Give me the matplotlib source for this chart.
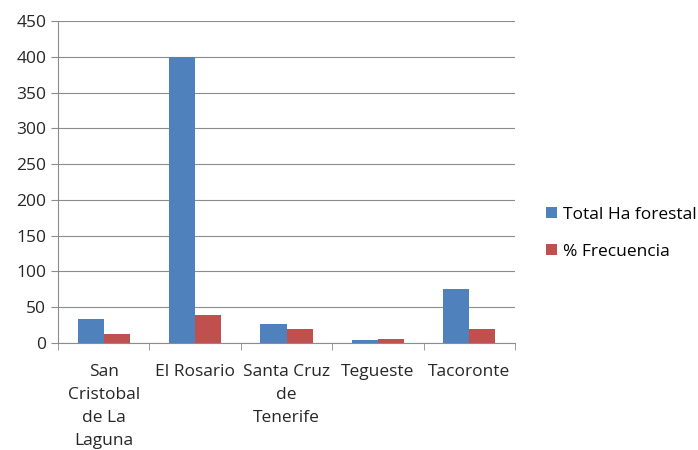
import numpy as np
import matplotlib.pyplot as plt

plt.rcParams['font.family'] = ['Open Sans', 'DejaVu Sans']

municipios = ['San\nCristobal\nde La\nLaguna', 'El Rosario', 'Santa Cruz\nde\nTenerife', 'Tegueste', 'Tacoronte']
total_ha = [34, 400, 27, 4, 76]
frecuencia = [13, 39, 19, 6, 20]

fig = plt.figure(figsize=(6.98, 4.5), dpi=100)
ax = fig.add_axes([0.083, 0.238, 0.655, 0.715])

x = np.arange(len(municipios))
w = 0.285
ax.bar(x - w / 2, total_ha, w, color='#4F81BD', label='Total Ha forestal')
ax.bar(x + w / 2, frecuencia, w, color='#C0504D', label='% Frecuencia')

ax.set_xlim(-0.5, len(municipios) - 0.5)
ax.set_ylim(0, 450)
ax.set_yticks(range(0, 451, 50))
ax.yaxis.grid(True, color='#8c8c8c', linewidth=0.8)
ax.set_axisbelow(True)

# etiquetas centradas, marcas en los limites de cada categoria
ax.set_xticks(x)
ax.set_xticklabels(municipios, fontsize=12.5, color='#262626', linespacing=1.6)
ax.tick_params(axis='x', length=0, pad=15)
ax.set_xticks(np.arange(-0.5, len(municipios)), minor=True)
ax.tick_params(axis='x', which='minor', length=5, color='#8c8c8c')
ax.tick_params(axis='y', length=5, color='#8c8c8c', labelsize=12.5, labelcolor='#262626')

for side in ['top', 'right']:
    ax.spines[side].set_visible(False)
for side in ['left', 'bottom']:
    ax.spines[side].set_color('#8c8c8c')

ax.legend(loc='center left', bbox_to_anchor=(1.068, 0.34), frameon=False, fontsize=12.5,
          handlelength=0.6, handleheight=0.6, handletextpad=0.35, labelspacing=1.2,
          borderpad=0, borderaxespad=0)

plt.savefig('out.png')
